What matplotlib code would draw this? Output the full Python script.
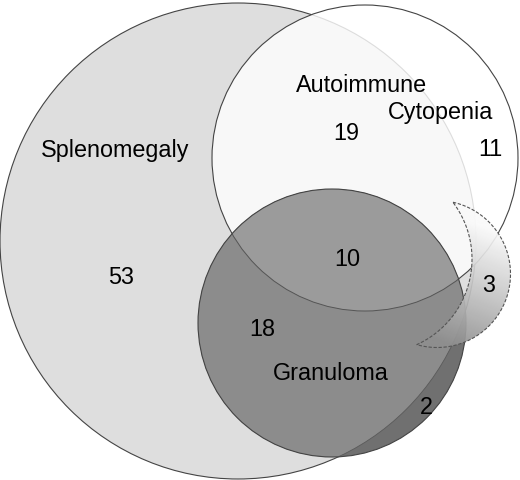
import numpy as np
import matplotlib.pyplot as plt
from matplotlib.patches import Circle, PathPatch
from matplotlib.path import Path

# --- data -------------------------------------------------------------
SET_NAMES = ["Splenomegaly", "Autoimmune", "Cytopenia", "Granuloma"]
REGION_NAMES = ["S only", "S & A", "A only", "S & A & G", "S & G", "G only", "A & G"]
REGION_COUNTS = [53, 19, 11, 10, 18, 2, 3]

# --- layout (pixel coords, y down) -------------------------------------
SPLEEN = (238, 241, 238)
AUTO = (365, 158, 153)
GRAN = (332, 323, 134)
CRESCENT_OUT = (437, 274, 73.5)
CRESCENT_IN = (378, 259, 94)

SET_XY = [(115, 150), (362, 85), (441, 113), (331, 374)]
REGION_XY = [(121, 277), (346, 133), (490, 149), (347, 259), (262, 330), (426, 407), (489, 286)]

FONT = ["Liberation Sans", "DejaVu Sans"]
EDGE = "#444444"


def circle(ax, c, **kw):
    x, y, r = c
    return Circle((x, y), r, transform=ax.transData, **kw)


def circle_hits(a, b):
    (x0, y0, r0), (x1, y1, r1) = a, b
    d = np.hypot(x1 - x0, y1 - y0)
    l = (r0**2 - r1**2 + d**2) / (2 * d)
    h = np.sqrt(r0**2 - l**2)
    ex, ey = (x1 - x0) / d, (y1 - y0) / d
    mx, my = x0 + l * ex, y0 + l * ey
    return np.array([mx - h * ey, my + h * ex]), np.array([mx + h * ey, my - h * ex])


def arc(c, p0, p1, keep, n=80):
    x, y, r = c
    t0 = np.arctan2(p0[1] - y, p0[0] - x)
    t1 = np.arctan2(p1[1] - y, p1[0] - x)
    sweep = (t1 - t0) % (2 * np.pi)
    mid = t0 + sweep / 2
    if not keep(x + r * np.cos(mid), y + r * np.sin(mid)):
        sweep -= 2 * np.pi
    t = t0 + np.linspace(0, sweep, n)
    return np.column_stack((x + r * np.cos(t), y + r * np.sin(t)))


def inside(c, px, py):
    return np.hypot(px - c[0], py - c[1]) < c[2]


fig = plt.figure(figsize=(5.2, 4.8), dpi=100)
ax = fig.add_axes([0, 0, 1, 1])
ax.set_xlim(0, 520)
ax.set_ylim(480, 0)
ax.axis("off")

# Splenomegaly
ax.add_patch(circle(ax, SPLEEN, facecolor="#dedede", edgecolor=EDGE, lw=0.8, zorder=1))
# Autoimmune cytopenia, slightly see-through so the spleen edge shows faintly
ax.add_patch(circle(ax, AUTO, facecolor="white", alpha=0.82, edgecolor="none", zorder=2))
ax.add_patch(circle(ax, AUTO, facecolor="none", edgecolor=EDGE, lw=0.8, zorder=2))

# Granuloma: darker outside the spleen, lighter where it meets the autoimmune set
ax.add_patch(circle(ax, GRAN, facecolor="#707070", edgecolor="none", zorder=3))
g_in_s = circle(ax, GRAN, facecolor="#8c8c8c", edgecolor="none", zorder=3.1)
ax.add_patch(g_in_s)
g_in_s.set_clip_path(circle(ax, SPLEEN))
g_in_a = circle(ax, GRAN, facecolor="#9b9b9b", edgecolor="none", zorder=3.2)
ax.add_patch(g_in_a)
g_in_a.set_clip_path(circle(ax, AUTO))
ax.add_patch(circle(ax, GRAN, facecolor="none", edgecolor=EDGE, lw=0.8, zorder=3.5))
inner_a = circle(ax, AUTO, facecolor="none", edgecolor="#555555", lw=0.7, zorder=3.4)
ax.add_patch(inner_a)
inner_a.set_clip_path(circle(ax, GRAN))
inner_s = circle(ax, SPLEEN, facecolor="none", edgecolor="#5a5a5a", lw=0.6, zorder=3.4)
ax.add_patch(inner_s)
inner_s.set_clip_path(circle(ax, GRAN))

# crescent with a shaded fill
p0, p1 = circle_hits(CRESCENT_OUT, CRESCENT_IN)
outer = arc(CRESCENT_OUT, p0, p1, lambda x, y: not inside(CRESCENT_IN, x, y))
inner = arc(CRESCENT_IN, p1, p0, lambda x, y: inside(CRESCENT_OUT, x, y))
verts = np.vstack((outer, inner, outer[:1]))
codes = [Path.MOVETO] + [Path.LINETO] * (len(verts) - 2) + [Path.CLOSEPOLY]
crescent = PathPatch(Path(verts, codes), facecolor="none", edgecolor="#555555",
                     lw=0.8, linestyle=(0, (3, 1.5)), zorder=5)
ax.add_patch(crescent)
gy, gx = np.mgrid[0:1:200j, 0:1:200j]
shade = 0.98 - 0.42 * np.clip(gy * 1.15 - 0.3 * gx, 0, 1)
img = ax.imshow(shade, cmap="gray", vmin=0, vmax=1, extent=(410, 515, 350, 198),
                interpolation="bilinear", alpha=0.92, zorder=4.5, aspect="auto")
img.set_clip_path(crescent)
ax.set_xlim(0, 520)
ax.set_ylim(480, 0)

for name, (x, y) in zip(SET_NAMES, SET_XY):
    ax.text(x, y, name, ha="center", va="center", fontsize=16.8, family=FONT, zorder=6)
for count, (x, y) in zip(REGION_COUNTS, REGION_XY):
    ax.text(x, y, str(count), ha="center", va="center", fontsize=16.8, family=FONT, zorder=6)

fig.savefig("out.png", dpi=100)
